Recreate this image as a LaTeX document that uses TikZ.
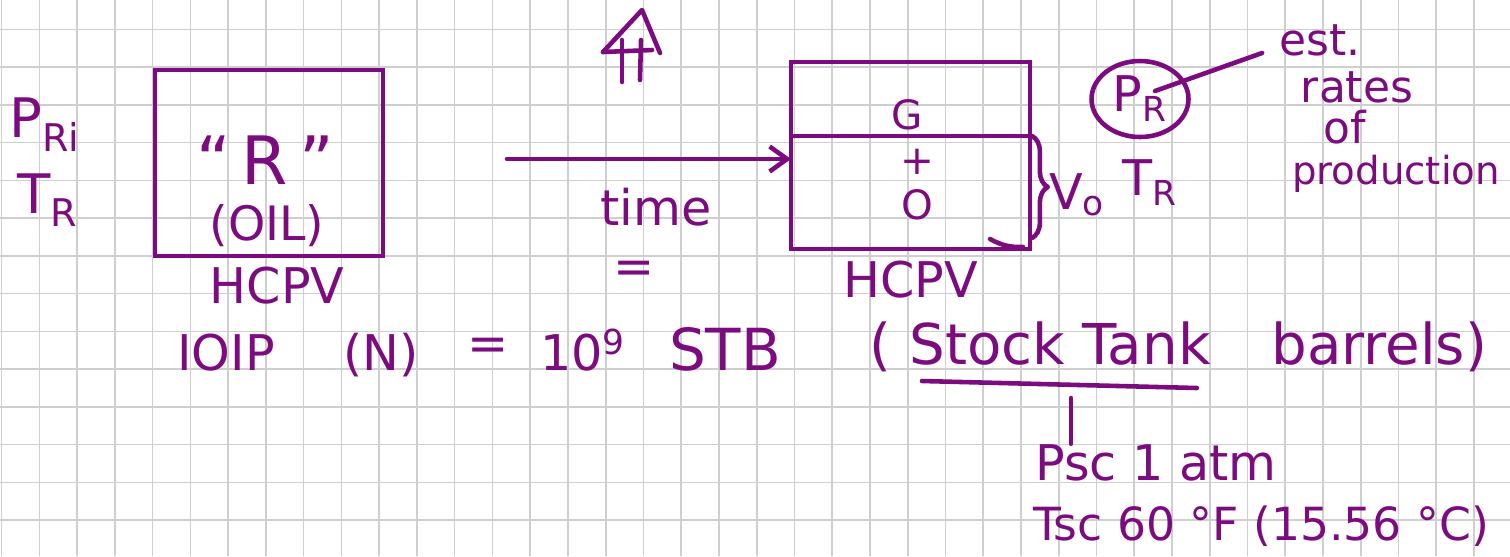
\documentclass[tikz,border=0pt]{standalone}
\usepackage{fontspec}
\setmainfont{DejaVu Sans}
\usetikzlibrary{arrows.meta,positioning,calc,shapes.geometric,decorations.pathreplacing}
\definecolor{ink}{HTML}{7B0B7F}
\definecolor{paperline}{HTML}{CFCFCF}

\begin{document}
\begin{tikzpicture}[
    x=0.02cm, y=-0.02cm,
    >={Straight Barb[length=3.5mm,width=5mm]}
  ]

  % Styles for the hand notes
  \tikzset{
    hand/.style={text=ink, inner sep=0pt, font=\fontsize{28}{30}\selectfont},
    note/.style={hand, font=\fontsize{25}{27}\selectfont},
    tank/.style={draw=ink, line width=2.6pt, inner sep=0pt, outer sep=0pt},
    stroke/.style={draw=ink, line width=2.6pt, line cap=round, line join=round}
  }

  % Squared paper
  \useasboundingbox (0,0) rectangle (1510,556);
  \clip (0,0) rectangle (1510,556);
  \fill[white] (0,0) rectangle (1510,556);
  \foreach \i in {0,...,39}
    \draw[paperline, line width=0.9pt] ({1.7+37.75*\i},0) -- ({1.7+37.75*\i},556);
  \foreach \j in {1,...,14}
    \draw[paperline, line width=0.9pt] (0,{-8.45+37.75*\j}) -- (1510,{-8.45+37.75*\j});

  % Initial reservoir conditions
  \node[hand, font=\fontsize{31}{33}\selectfont] (pri) at (45,125) {P\textsubscript{Ri}};
  \node[hand, font=\fontsize{31}{33}\selectfont] (tri) at (48,200) {T\textsubscript{R}};

  \node[tank, minimum width=4.56cm, minimum height=3.72cm] (reservoir) at (269,163) {};
  \node[hand, font=\fontsize{38}{40}\selectfont] (rlabel) at (265,160) {“\,R\,”};
  \node[hand, font=\fontsize{27}{29}\selectfont] (oil) at (267,226) {(OIL)};
  \node[hand, below=0.22cm of reservoir, xshift=0.16cm] (hcpvA) {HCPV};

  % Production over time
  \draw[stroke] (603,52) -- (642,10) -- (660,53);
  \draw[stroke] (603,52) -- (652,50);
  \draw[stroke] (622,40) -- (622,82);
  \draw[stroke] (641,40) -- (640,80);

  \coordinate (tstart) at (507,159);
  \node[tank, minimum width=4.78cm, minimum height=1.48cm] (gascap) at (910.5,99) {};
  \node[tank, minimum width=4.78cm, minimum height=2.26cm, below=0pt of gascap] (oilzone) {};
  \draw[stroke, ->] (tstart) -- (tstart -| oilzone.west);

  \node[hand] (time) at (656,207) {time};
  \node[hand] (eqsign) at (634,272) {=};

  \node[hand, font=\fontsize{23}{25}\selectfont] (gas) at (907,115) {G};
  \node[hand, font=\fontsize{23}{25}\selectfont] (plus) at (917,162) {+};
  \node[hand, font=\fontsize{23}{25}\selectfont] (oilO) at (917,205) {O};
  \node[hand, below=0.24cm of oilzone] (hcpvB) {HCPV};

  \coordinate (markA) at (990,239);
  \coordinate (markB) at (1023,247);
  \draw[stroke] (markA) to[bend right=15] (markB);

  \draw[stroke, decorate, decoration={brace, amplitude=9pt}]
    ($(oilzone.north east)+(2,0)$) -- ($(oilzone.south east)+(2,-11)$);
  \node[hand] (vo) at (1077,195) {V\textsubscript{o}};

  % Current reservoir state
  \node[hand, draw=ink, line width=2.6pt, ellipse, minimum width=1.94cm, minimum height=1.52cm] (pr) at (1140,99) {P\textsubscript{R}};
  \node[hand] (trnow) at (1150,183) {T\textsubscript{R}};

  \node[note] (est) at (1320,40) {est.};
  \node[note] (rates) at (1357,87) {rates};
  \node[note] (of) at (1345,127) {of};
  \node[note, font=\fontsize{22}{24}\selectfont, anchor=base west] (production) at (1292,184) {production};
  \draw[stroke] ($(pr.center)+(15,-8)$) -- ($(est.west)+(-17,13)$);

  % Oil in place
  \node[hand, anchor=base] (ioip) at (226,370) {IOIP};
  \node[hand, anchor=base] (nsym) at (381,370) {(N)};
  \node[hand] (eq) at (488,349) {=};
  \node[hand, anchor=base west] (tennine) at (540,370) {10\textsuperscript{9}};
  \node[hand, font=\fontsize{33}{35}\selectfont, anchor=base] (stb) at (725,370) {STB};

  % Stock tank conditions
  \node[hand, font=\fontsize{32}{34}\selectfont, anchor=base] (lparen) at (880,364) {(};
  \node[hand, font=\fontsize{32}{34}\selectfont, anchor=base west] (stock) at (909,364) {Stock Tank};
  \node[hand, font=\fontsize{32}{34}\selectfont, anchor=base west] (barrels) at (1271,364) {barrels)};
  \draw[stroke] ($(stock.base west)+(13,17)$) -- ($(stock.base east)+(-14,24)$);

  \node[hand, anchor=base west] (psc) at (1035,480) {Psc 1 atm};
  \node[hand, font=\fontsize{26}{28}\selectfont, anchor=base west] (tsc) at (1033,540) {Tsc 60 °F (15.56 °C)};
  \coordinate (tickTop) at (1071,398);
  \draw[stroke] (tickTop) -- (tickTop |- psc.north);

\end{tikzpicture}
\end{document}
